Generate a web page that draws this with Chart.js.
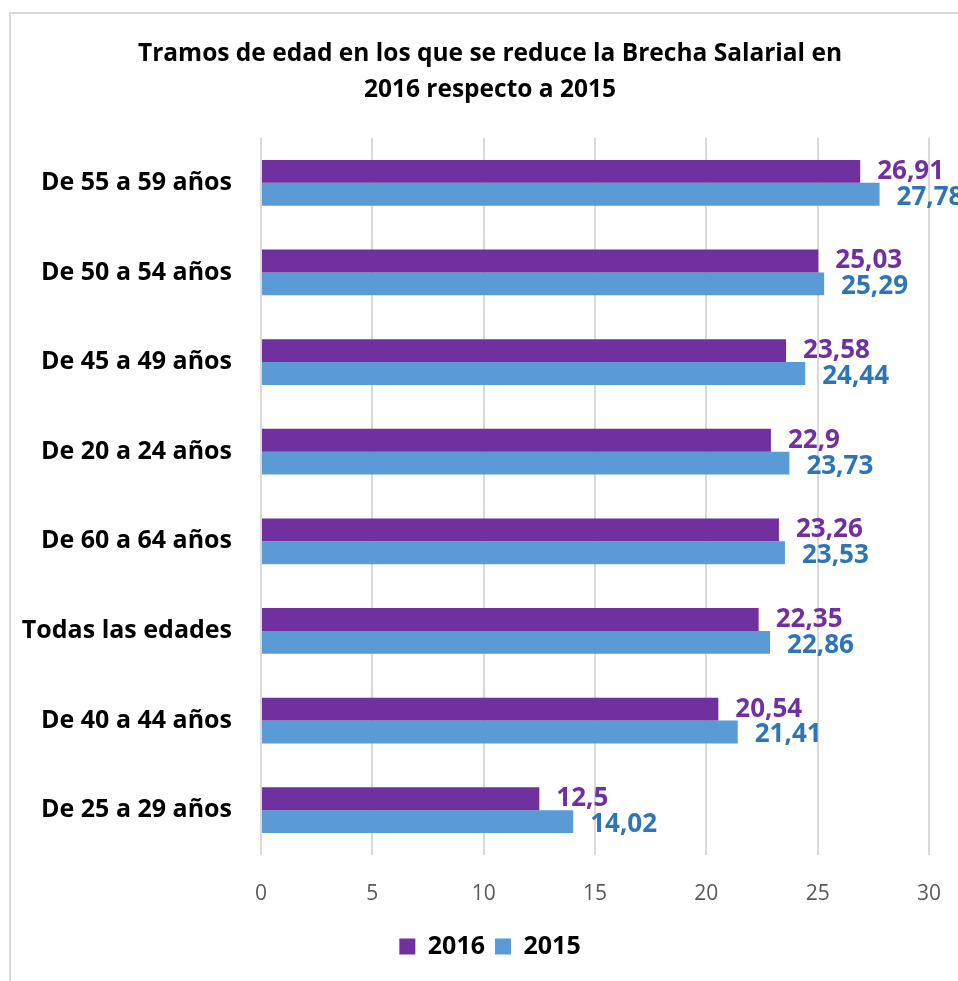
<!DOCTYPE html>
<html>
<head>
<meta charset="utf-8">
<script src="https://cdn.jsdelivr.net/npm/chart.js@4/dist/chart.umd.min.js"></script>
<style>
  html, body { margin: 0; padding: 0; background: #fff; }
  #wrap { width: 958px; height: 981px; }
</style>
</head>
<body>
<div id="wrap"><canvas id="chart" width="958" height="981"></canvas></div>
<script>
// Tramos de edad, de arriba abajo
const categories = [
  'De 55 a 59 años', 'De 50 a 54 años', 'De 45 a 49 años', 'De 20 a 24 años',
  'De 60 a 64 años', 'Todas las edades', 'De 40 a 44 años', 'De 25 a 29 años'
];
const values2016 = [26.91, 25.03, 23.58, 22.9, 23.26, 22.35, 20.54, 12.5];
const values2015 = [27.78, 25.29, 24.44, 23.73, 23.53, 22.86, 21.41, 14.02];
const xTicks = [0, 5, 10, 15, 20, 25, 30];

const FONT = '"Open Sans", sans-serif';

// Etiquetas de valor a la derecha de cada barra (sin plugin externo)
const valueLabels = {
  id: 'valueLabels',
  afterDatasetsDraw(chart) {
    const ctx = chart.ctx;
    ctx.save();
    ctx.font = `bold 26px ${FONT}`;
    ctx.textBaseline = 'middle';
    ctx.textAlign = 'left';
    chart.data.datasets.forEach((ds, i) => {
      const meta = chart.getDatasetMeta(i);
      ctx.fillStyle = ds.labelColor;
      meta.data.forEach((bar, j) => {
        const txt = String(ds.data[j]).replace('.', ',');
        ctx.fillText(txt, bar.x + 17, bar.y + (i === 0 ? 0 : 3));
      });
    });
    ctx.restore();
  }
};

// Etiquetas de categoria: se dibujan a mano para que no las recorte el eje
const categoryLabels = {
  id: 'categoryLabels',
  afterDraw(chart) {
    const ctx = chart.ctx;
    const y = chart.scales.y;
    ctx.save();
    ctx.font = `bold 25px ${FONT}`;
    ctx.fillStyle = '#000';
    ctx.textAlign = 'right';
    ctx.textBaseline = 'middle';
    chart.data.labels.forEach((lbl, i) => {
      ctx.fillText(lbl, chart.chartArea.left - 29, y.getPixelForValue(i));
    });
    ctx.restore();
  }
};

// Borde gris del area del grafico
const frame = {
  id: 'frame',
  beforeDraw(chart) {
    const ctx = chart.ctx;
    ctx.save();
    ctx.strokeStyle = '#d9d9d9';
    ctx.lineWidth = 2;
    ctx.beginPath();
    ctx.moveTo(10, chart.height);
    ctx.lineTo(10, 13);
    ctx.lineTo(chart.width, 13);
    ctx.stroke();
    ctx.restore();
  }
};

new Chart(document.getElementById('chart'), {
  type: 'bar',
  data: {
    labels: categories,
    datasets: [
      { label: '2016', data: values2016, backgroundColor: '#7030a0', labelColor: '#7030a0',
        categoryPercentage: 0.51, barPercentage: 1.0, clip: false },
      { label: '2015', data: values2015, backgroundColor: '#5b9bd5', labelColor: '#2e75b6',
        categoryPercentage: 0.51, barPercentage: 1.0, clip: false },
    ],
  },
  options: {
    indexAxis: 'y',
    responsive: false,
    animation: false,
    layout: { padding: { left: 51, right: 29, top: 0, bottom: 12 } },
    plugins: {
      title: {
        display: true,
        text: ['Tramos de edad en los que se reduce la Brecha Salarial en', '2016 respecto a 2015'],
        color: '#000',
        font: { family: FONT, size: 24.5, weight: 'bold', lineHeight: 1.47 },
        padding: { top: 36, bottom: 30 },
      },
      legend: {
        position: 'bottom',
        labels: {
          boxWidth: 16, boxHeight: 16, padding: 10,
          color: '#000',
          font: { family: FONT, size: 25, weight: 'bold' },
        },
      },
      tooltip: { enabled: false },
    },
    scales: {
      x: {
        min: 0, max: 30,
        afterBuildTicks: s => { s.ticks = xTicks.map(v => ({ value: v })); },
        afterFit: s => { s.height = 69; s.paddingLeft = 0; s.paddingRight = 0; },
        grid: { color: '#d9d9d9', lineWidth: 2, drawTicks: false },
        border: { display: false },
        ticks: { color: '#595959', padding: 26, font: { family: FONT, size: 21 } },
      },
      y: {
        afterFit: s => { s.width = 210; },
        grid: { display: false },
        border: { display: false },
        ticks: { display: false },
      },
    },
  },
  plugins: [frame, valueLabels, categoryLabels],
});
</script>
</body>
</html>
